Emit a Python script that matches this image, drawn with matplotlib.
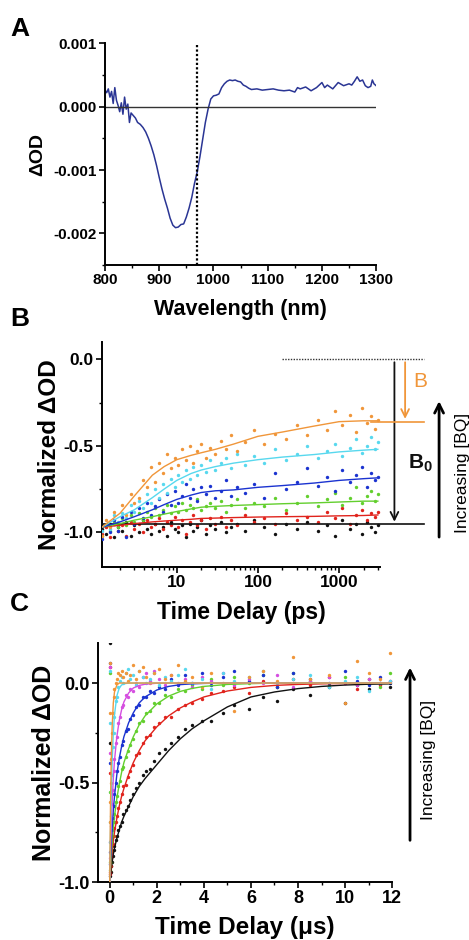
import matplotlib
matplotlib.use("Agg")
import matplotlib.pyplot as plt
from matplotlib.ticker import MultipleLocator, FormatStrFormatter, FixedLocator, LogLocator, NullFormatter

plt.rcParams['font.family'] = ['Liberation Sans', 'DejaVu Sans']
plt.rcParams['font.weight'] = 'bold'
plt.rcParams['axes.unicode_minus'] = False
plt.rcParams['mathtext.fontset'] = 'custom'
plt.rcParams['mathtext.rm'] = 'Liberation Sans'
plt.rcParams['mathtext.bf'] = 'Liberation Sans:bold'

# ---- Panel A: transient spectrum (dOD in units of 1e-3) ----
wavelength = [800, 803, 806, 809, 812, 815, 818, 821, 824, 827,
              830, 833, 836, 839, 842, 845, 848, 852, 856, 860,
              865, 870, 875, 880, 885, 890, 895, 900, 905, 910,
              915, 920, 925, 930, 935, 940, 945, 950, 955, 960,
              965, 970, 975, 980, 985, 990, 995, 1000, 1005, 1010,
              1015, 1020, 1025, 1030, 1035, 1040, 1045, 1050, 1055, 1060,
              1065, 1070, 1080, 1090, 1100, 1110, 1120, 1130, 1140, 1150,
              1155, 1160, 1170, 1180, 1190, 1195, 1200, 1205, 1210, 1220,
              1230, 1240, 1250, 1255, 1260, 1265, 1270, 1275, 1280, 1285,
              1290, 1293, 1296, 1300]
dod_milli = [0.26, 0.22, 0.28, 0.15, 0.24, 0.05, 0.30, 0.10, 0.02, -0.08,
             0.06, -0.12, 0.15, -0.04, 0.04, -0.25, -0.10, -0.14, -0.18, -0.25,
             -0.28, -0.33, -0.40, -0.50, -0.62, -0.76, -0.93, -1.12, -1.30, -1.46,
             -1.60, -1.76, -1.87, -1.91, -1.90, -1.86, -1.85, -1.74, -1.60, -1.43,
             -1.21, -1.03, -0.79, -0.52, -0.25, -0.04, 0.12, 0.17, 0.18, 0.20,
             0.30, 0.36, 0.40, 0.42, 0.41, 0.42, 0.40, 0.39, 0.34, 0.32,
             0.29, 0.27, 0.28, 0.26, 0.27, 0.28, 0.26, 0.25, 0.26, 0.23,
             0.30, 0.28, 0.31, 0.25, 0.30, 0.34, 0.38, 0.30, 0.34, 0.28,
             0.38, 0.33, 0.36, 0.34, 0.40, 0.47, 0.40, 0.42, 0.33, 0.30,
             0.32, 0.42, 0.36, 0.33]
probe_nm = 970

# ---- Panel B: ps kinetics ----
t_ps = [1.2, 1.35, 1.5, 1.7, 1.9, 2.1, 2.4, 2.7, 3.0, 3.4,
        3.8, 4.3, 4.8, 5.4, 6.0, 6.7, 7.5, 8.4, 9.4, 10.5,
        11.7, 13, 14.5, 16, 18, 20, 23, 26, 30, 35,
        40, 47, 55, 70, 90, 120, 160, 220, 300, 400,
        550, 700, 900, 1100, 1350, 1600, 1900, 2200, 2500, 2800, 3000]
b_black = [-0.98, -1.01, -0.95, -1.03, -0.97, -0.99, -0.94, -1.02, -0.96, -1.00,
           -0.93, -0.98, -1.01, -0.95, -0.99, -0.97, -1.02, -0.94, -0.98, -1.00,
           -0.96, -1.03, -0.95, -0.99, -0.97, -0.93, -1.01, -0.96, -0.98, -0.94,
           -1.00, -0.97, -0.95, -0.99, -0.93, -0.97, -1.01, -0.95, -0.98, -0.94,
           -0.99, -0.96, -1.02, -0.93, -0.98, -0.95, -1.01, -0.94, -0.97, -1.00, -0.96]
b_red = [-1.01, -0.97, -1.03, -0.95, -0.99, -0.96, -1.02, -0.94, -0.98, -0.95,
         -1.00, -0.93, -0.97, -0.95, -0.92, -0.98, -0.94, -0.96, -0.91, -0.97,
         -0.93, -1.01, -0.94, -0.90, -0.96, -0.93, -0.98, -0.92, -0.95, -0.91,
         -0.97, -0.93, -0.96, -0.90, -0.94, -0.92, -0.95, -0.89, -0.93, -0.91,
         -0.94, -0.88, -0.92, -0.86, -0.95, -0.90, -0.87, -0.93, -0.89, -0.91, -0.88]
b_green = [-1.02, -0.96, -0.99, -0.94, -0.97, -0.92, -0.96, -0.90, -0.94, -0.89,
           -0.93, -0.88, -0.91, -0.86, -0.90, -0.87, -0.84, -0.89, -0.85, -0.88,
           -0.83, -0.87, -0.84, -0.86, -0.81, -0.87, -0.85, -0.83, -0.86, -0.82,
           -0.88, -0.84, -0.81, -0.86, -0.83, -0.85, -0.80, -0.87, -0.83, -0.79,
           -0.85, -0.81, -0.77, -0.84, -0.80, -0.74, -0.83, -0.79, -0.76, -0.82, -0.78]
b_blue = [-1.04, -0.96, -1.00, -0.93, -0.99, -0.91, -1.03, -0.88, -0.95, -0.86,
          -0.92, -0.83, -0.90, -0.85, -0.81, -0.88, -0.78, -0.84, -0.76, -0.83,
          -0.79, -0.72, -0.80, -0.75, -0.82, -0.74, -0.78, -0.73, -0.80, -0.76,
          -0.70, -0.79, -0.74, -0.77, -0.72, -0.80, -0.66, -0.75, -0.71, -0.63,
          -0.73, -0.68, -0.76, -0.64, -0.71, -0.67, -0.62, -0.74, -0.66, -0.70, -0.68]
b_cyan = [-0.99, -0.95, -0.98, -0.90, -0.94, -0.89, -0.92, -0.84, -0.88, -0.82,
          -0.86, -0.78, -0.83, -0.75, -0.80, -0.72, -0.77, -0.69, -0.74, -0.67,
          -0.71, -0.64, -0.69, -0.62, -0.67, -0.61, -0.65, -0.58, -0.64, -0.60,
          -0.57, -0.63, -0.55, -0.61, -0.56, -0.60, -0.52, -0.58, -0.55, -0.50,
          -0.57, -0.53, -0.49, -0.56, -0.51, -0.46, -0.54, -0.50, -0.45, -0.52, -0.48]
b_orange = [-1.02, -0.93, -0.97, -0.88, -0.95, -0.84, -0.90, -0.78, -0.83, -0.80,
            -0.70, -0.74, -0.62, -0.71, -0.60, -0.66, -0.55, -0.63, -0.57, -0.61,
            -0.52, -0.58, -0.50, -0.60, -0.53, -0.49, -0.57, -0.51, -0.55, -0.47,
            -0.52, -0.44, -0.53, -0.48, -0.41, -0.49, -0.43, -0.46, -0.38, -0.44,
            -0.35, -0.41, -0.30, -0.38, -0.32, -0.42, -0.28, -0.37, -0.33, -0.40, -0.35]

t_fit_ps = [1.2, 2, 3, 5, 7, 10, 15, 20, 30, 50, 100, 200, 500, 1000, 2000, 3000]
fit_b_red = [-0.97, -0.96, -0.95, -0.94, -0.935, -0.93, -0.925, -0.92, -0.918, -0.915,
             -0.912, -0.91, -0.908, -0.905, -0.903, -0.90]
fit_b_green = [-0.97, -0.95, -0.93, -0.91, -0.895, -0.88, -0.865, -0.855, -0.85, -0.845,
               -0.84, -0.835, -0.83, -0.825, -0.82, -0.82]
fit_b_blue = [-0.97, -0.94, -0.91, -0.87, -0.84, -0.81, -0.785, -0.77, -0.76, -0.755,
              -0.74, -0.73, -0.715, -0.70, -0.69, -0.685]
fit_b_cyan = [-0.97, -0.91, -0.87, -0.80, -0.75, -0.70, -0.66, -0.64, -0.62, -0.60,
              -0.58, -0.565, -0.55, -0.535, -0.525, -0.52]
fit_b_orange = [-0.97, -0.89, -0.79, -0.67, -0.62, -0.58, -0.555, -0.54, -0.52, -0.49,
                -0.445, -0.42, -0.385, -0.36, -0.355, -0.355]
b0_level = -0.955
b_level = -0.36

# ---- Panel C: us kinetics ----
t_us = [0, 0, 0, 0.02, 0.04, 0.06, 0.09, 0.12, 0.16, 0.2,
        0.25, 0.3, 0.36, 0.42, 0.5, 0.58, 0.67, 0.76, 0.86, 0.97,
        1.1, 1.25, 1.4, 1.55, 1.7, 1.9, 2.1, 2.35, 2.6, 2.9,
        3.2, 3.5, 3.9, 4.3, 4.8, 5.3, 5.9, 6.5, 7.1, 7.8,
        8.5, 9.3, 10.0, 10.5, 11.0, 11.5, 11.9]
c_black = [-1.00, -0.30, 0.20, -0.97, -0.95, -0.92, -0.90, -0.87, -0.84, -0.82,
           -0.79, -0.77, -0.74, -0.72, -0.70, -0.66, -0.64, -0.62, -0.59, -0.56,
           -0.53, -0.50, -0.46, -0.44, -0.43, -0.39, -0.35, -0.33, -0.30, -0.27,
           -0.23, -0.21, -0.19, -0.19, -0.15, -0.11, -0.13, -0.07, -0.09, -0.03,
           -0.06, -0.02, -0.10, -0.01, -0.03, 0.00, -0.02]
c_red = [-0.95, -0.45, 0.08, -0.96, -0.92, -0.88, -0.85, -0.81, -0.77, -0.73,
         -0.70, -0.67, -0.63, -0.60, -0.56, -0.52, -0.51, -0.47, -0.44, -0.41,
         -0.36, -0.35, -0.30, -0.27, -0.26, -0.22, -0.20, -0.17, -0.17, -0.13,
         -0.11, -0.10, -0.08, -0.05, -0.04, -0.02, -0.05, 0.01, -0.02, 0.02,
         -0.01, 0.03, 0.00, -0.03, 0.02, -0.01, 0.01]
c_green = [-0.90, -0.55, 0.05, -0.94, -0.90, -0.85, -0.80, -0.77, -0.70, -0.66,
           -0.60, -0.57, -0.52, -0.49, -0.43, -0.42, -0.37, -0.34, -0.31, -0.28,
           -0.24, -0.20, -0.19, -0.15, -0.14, -0.10, -0.10, -0.06, -0.07, -0.03,
           -0.04, -0.01, -0.03, 0.02, -0.01, 0.03, 0.00, 0.04, -0.02, 0.05,
           0.01, -0.01, 0.03, 0.00, 0.02, -0.02, 0.05]
c_blue = [-0.85, -0.40, 0.10, -0.91, -0.86, -0.80, -0.74, -0.68, -0.62, -0.56,
          -0.50, -0.44, -0.40, -0.37, -0.31, -0.29, -0.24, -0.23, -0.18, -0.16,
          -0.12, -0.11, -0.07, -0.07, -0.04, -0.05, -0.02, -0.03, 0.02, -0.01,
          0.04, 0.00, 0.05, -0.01, 0.03, 0.06, 0.01, 0.04, -0.02, 0.05,
          0.02, 0.00, 0.06, 0.01, -0.01, 0.03, 0.00]
c_magenta = [-0.80, -0.35, 0.08, -0.88, -0.79, -0.72, -0.61, -0.54, -0.44, -0.38,
             -0.30, -0.27, -0.20, -0.17, -0.12, -0.11, -0.06, -0.07, -0.03, -0.04,
             0.00, -0.02, 0.03, 0.05, 0.01, 0.06, 0.02, -0.01, 0.04, 0.00,
             0.02, -0.02, 0.03, 0.01, 0.05, -0.01, 0.02, 0.00, 0.04, -0.02,
             0.01, 0.03, 0.00, -0.01, 0.02, 0.00, 0.01]
c_cyan = [-0.70, -0.20, 0.06, -0.80, -0.67, -0.55, -0.46, -0.32, -0.25, -0.17,
          -0.09, -0.07, -0.02, 0.01, 0.03, 0.00, 0.05, 0.07, 0.02, 0.04,
          -0.01, 0.06, 0.03, 0.00, 0.02, 0.05, -0.01, 0.03, 0.01, 0.04,
          0.07, 0.00, 0.02, -0.03, 0.05, 0.01, 0.03, 0.06, 0.00, 0.02,
          0.04, -0.02, 0.01, 0.03, -0.04, 0.00, 0.01]
c_orange = [-0.60, -0.15, 0.10, -0.70, -0.50, -0.38, -0.25, -0.15, -0.07, -0.03,
            0.00, 0.02, 0.05, 0.04, 0.06, 0.03, 0.05, 0.01, 0.04, 0.09,
            0.02, 0.06, 0.08, 0.03, 0.00, 0.05, 0.07, 0.02, 0.04, 0.09,
            0.01, 0.03, -0.02, 0.05, 0.00, -0.14, 0.03, 0.06, 0.01, 0.13,
            0.02, 0.04, -0.10, 0.11, 0.05, 0.02, 0.15]

t_fit_us = [0, 0.03, 0.06, 0.1, 0.15, 0.2, 0.3, 0.4, 0.5, 0.6, 0.8, 1.0, 1.25, 1.5,
            2.0, 2.5, 3.0, 3.5, 4.0, 5.0, 6.0, 7.0, 8.0, 9.0, 10.0, 11.0, 12.0]
fit_c_black = [-1.0, -0.97, -0.94, -0.90, -0.86, -0.83, -0.78, -0.74, -0.70, -0.67, -0.62, -0.57,
               -0.52, -0.48, -0.41, -0.34, -0.28, -0.23, -0.19, -0.12, -0.07, -0.045, -0.028,
               -0.017, -0.01, -0.006, -0.004]
fit_c_red = [-1.0, -0.95, -0.90, -0.85, -0.79, -0.75, -0.68, -0.62, -0.57, -0.53, -0.46, -0.40,
             -0.34, -0.29, -0.22, -0.165, -0.125, -0.095, -0.07, -0.04, -0.022, -0.012, -0.007,
             -0.004, -0.002, -0.001, 0.0]
fit_c_green = [-1.0, -0.93, -0.87, -0.80, -0.73, -0.67, -0.58, -0.51, -0.45, -0.40, -0.33, -0.27,
               -0.21, -0.165, -0.105, -0.066, -0.042, -0.027, -0.017, -0.007, -0.003, 0.0, 0.0,
               0.0, 0.0, 0.0, 0.0]
fit_c_blue = [-1.0, -0.90, -0.82, -0.73, -0.64, -0.57, -0.46, -0.38, -0.32, -0.27, -0.20, -0.15,
              -0.10, -0.07, -0.035, -0.017, -0.008, -0.004, -0.002, 0.0, 0.0, 0.0, 0.0,
              0.0, 0.0, 0.0, 0.0]
fit_c_magenta = [-1.0, -0.85, -0.73, -0.60, -0.48, -0.39, -0.27, -0.19, -0.135, -0.095, -0.05,
                 -0.025, -0.012, -0.006, -0.001, 0.0, 0.0, 0.0, 0.0, 0.0, 0.0, 0.0, 0.0,
                 0.0, 0.0, 0.0, 0.0]
fit_c_cyan = [-1.0, -0.75, -0.57, -0.40, -0.25, -0.16, -0.065, -0.026, -0.01, -0.004, 0.0, 0.0,
              0.0, 0.0, 0.0, 0.0, 0.0, 0.0, 0.0, 0.0, 0.0, 0.0, 0.0, 0.0, 0.0, 0.0, 0.0]
fit_c_orange = [-1.0, -0.62, -0.40, -0.22, -0.10, -0.045, -0.01, 0.0, 0.0, 0.0, 0.0, 0.0,
                0.0, 0.0, 0.0, 0.0, 0.0, 0.0, 0.0, 0.0, 0.0, 0.0, 0.0, 0.0, 0.0, 0.0, 0.0]

BLACK = "#111111"
RED = "#e0231c"
GREEN = "#63cf2e"
BLUE = "#1b33d0"
MAGENTA = "#d54ee0"
CYAN = "#58d8ee"
ORANGE = "#f0963a"


def style_axes(ax, tick_size):
    for side in ["top", "right"]:
        ax.spines[side].set_visible(False)
    for side in ["left", "bottom"]:
        ax.spines[side].set_linewidth(1.4)
    ax.tick_params(which="major", direction="out", length=4, width=1.2,
                   labelsize=tick_size, pad=2)
    ax.tick_params(which="minor", direction="out", length=2.5, width=1.0)
    for lab in ax.get_xticklabels() + ax.get_yticklabels():
        lab.set_fontweight("bold")


fig = plt.figure(figsize=(4.69, 9.40), dpi=100)

# Panel A
axA = fig.add_axes([0.224, 0.718, 0.578, 0.236])
axA.plot(wavelength, [v * 1e-3 for v in dod_milli], color="#2a3594", lw=1.1)
axA.axhline(0, color="#333333", lw=1.0)
axA.axvline(probe_nm, color="k", lw=1.6, ls=(0, (1, 1)))
axA.set_xlim(800, 1300)
axA.set_ylim(-0.0025, 0.001)
axA.xaxis.set_major_locator(MultipleLocator(100))
axA.xaxis.set_minor_locator(MultipleLocator(50))
axA.yaxis.set_major_locator(FixedLocator([-0.002, -0.001, 0.0, 0.001]))
axA.yaxis.set_minor_locator(MultipleLocator(0.0005))
axA.yaxis.set_major_formatter(FormatStrFormatter("%.3f"))
axA.set_xlabel("Wavelength (nm)", fontsize=15.5, fontweight="bold", labelpad=8)
axA.set_ylabel("ΔOD", fontsize=14, fontweight="bold", labelpad=5)
style_axes(axA, 11)

# Panel B
axB = fig.add_axes([0.2175, 0.397, 0.593, 0.239])
axB.set_xscale("log")
for vals, col in [(b_black, BLACK), (b_red, RED), (b_green, GREEN),
                  (b_blue, BLUE), (b_cyan, CYAN), (b_orange, ORANGE)]:
    axB.scatter(t_ps, vals, s=6, color=col, lw=0, zorder=3)
axB.plot([t_ps[0], 11000], [b0_level, b0_level], color=BLACK, lw=1.2, clip_on=False, zorder=4)
for vals, col in [(fit_b_red, RED), (fit_b_green, GREEN), (fit_b_blue, BLUE),
                  (fit_b_cyan, CYAN), (fit_b_orange, ORANGE)]:
    axB.plot(t_fit_ps, vals, color=col, lw=1.0, zorder=4)
axB.plot([2500, 11000], [b_level, b_level], color=ORANGE, lw=1.2, clip_on=False, zorder=4)
axB.plot([200, 11000], [0, 0], color="#333333", lw=1.0, ls=(0, (1, 1)), clip_on=False)
axB.annotate("", xy=(4800, b0_level), xytext=(4800, 0),
             arrowprops=dict(arrowstyle="->", color=BLACK, lw=1.3, mutation_scale=14),
             annotation_clip=False)
axB.annotate("", xy=(6500, b_level), xytext=(6500, 0),
             arrowprops=dict(arrowstyle="->", color=ORANGE, lw=1.3, mutation_scale=14),
             annotation_clip=False)
axB.text(8300, -0.125, "B", color=ORANGE, fontsize=15, fontweight="normal",
         ha="left", va="center", clip_on=False)
axB.text(7000, -0.60, r"$\mathbf{B_0}$", color=BLACK, fontsize=15,
         ha="left", va="center", clip_on=False)
axB.annotate("", xy=(1.212, 0.75), xytext=(1.212, 0.12), xycoords="axes fraction",
             arrowprops=dict(arrowstyle="->", color="k", lw=2.0, mutation_scale=16),
             annotation_clip=False)
axB.text(1.295, 0.42, "Increasing [BQ]", transform=axB.transAxes, rotation=90,
         fontsize=12.5, fontweight="normal", ha="center", va="center")
axB.set_xlim(1.2, 3200)
axB.set_ylim(-1.2, 0.1)
axB.xaxis.set_major_locator(FixedLocator([10, 100, 1000]))
axB.xaxis.set_major_formatter(FormatStrFormatter("%d"))
axB.xaxis.set_minor_locator(LogLocator(base=10, subs=[2, 3, 4, 5, 6, 7, 8, 9]))
axB.xaxis.set_minor_formatter(NullFormatter())
axB.yaxis.set_major_locator(FixedLocator([-1.0, -0.5, 0.0]))
axB.yaxis.set_minor_locator(MultipleLocator(0.25))
axB.yaxis.set_major_formatter(FormatStrFormatter("%.1f"))
axB.set_xlabel("Time Delay (ps)", fontsize=16.5, fontweight="bold", labelpad=8)
axB.set_ylabel("Normalized ΔOD", fontsize=17.5, fontweight="bold", labelpad=2)
style_axes(axB, 12.5)

# Panel C
axC = fig.add_axes([0.209, 0.0617, 0.627, 0.254])
for vals, col in [(c_black, BLACK), (c_red, RED), (c_green, GREEN), (c_blue, BLUE),
                  (c_magenta, MAGENTA), (c_cyan, CYAN), (c_orange, ORANGE)]:
    axC.scatter(t_us, vals, s=6, color=col, lw=0, zorder=3)
for vals, col in [(fit_c_black, BLACK), (fit_c_red, RED), (fit_c_green, GREEN),
                  (fit_c_blue, BLUE), (fit_c_magenta, MAGENTA), (fit_c_cyan, CYAN),
                  (fit_c_orange, ORANGE)]:
    axC.plot(t_fit_us, vals, color=col, lw=1.0, zorder=4)
axC.annotate("", xy=(1.061, 0.91), xytext=(1.061, 0.163), xycoords="axes fraction",
             arrowprops=dict(arrowstyle="->", color="k", lw=2.0, mutation_scale=16),
             annotation_clip=False)
axC.text(1.125, 0.51, "Increasing [BQ]", transform=axC.transAxes, rotation=90,
         fontsize=12.5, fontweight="normal", ha="center", va="center")
axC.set_xlim(-0.5, 12)
axC.set_ylim(-1.0, 0.2)
axC.xaxis.set_major_locator(MultipleLocator(2))
axC.xaxis.set_minor_locator(MultipleLocator(1))
axC.yaxis.set_major_locator(FixedLocator([-1.0, -0.5, 0.0]))
axC.yaxis.set_minor_locator(MultipleLocator(0.25))
axC.yaxis.set_major_formatter(FormatStrFormatter("%.1f"))
axC.set_xlabel("Time Delay (μs)", fontsize=17.5, fontweight="bold", labelpad=6)
axC.set_ylabel("Normalized ΔOD", fontsize=18, fontweight="bold", labelpad=2)
style_axes(axC, 13)

# panel letters
fig.text(0.022, 1 - 29 / 940, "A", fontsize=19, fontweight="bold", va="center")
fig.text(0.022, 1 - 319 / 940, "B", fontsize=19, fontweight="bold", va="center")
fig.text(0.022, 1 - 604 / 940, "C", fontsize=19, fontweight="bold", va="center")

fig.savefig("out.png", dpi=100)
